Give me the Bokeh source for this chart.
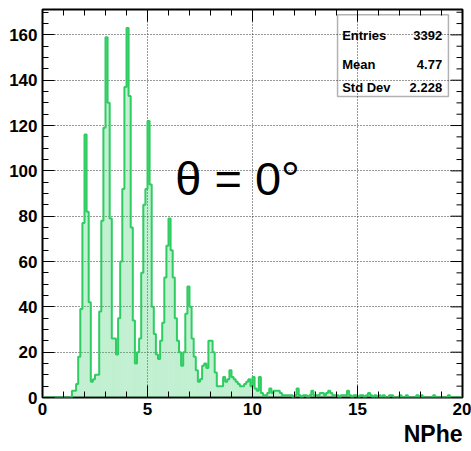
import numpy as np
from bokeh.plotting import figure
from bokeh.models import (Range1d, FixedTicker, Label, BoxAnnotation,
                          ColumnDataSource, Title)
from bokeh.embed import file_html
from bokeh.resources import INLINE

# ---------------- data ----------------
bin_width = 0.1
x_min, x_max = 0.0, 20.0
# counts per 0.1-wide bin, rows = one unit of NPhe (0.0-0.9, 1.0-1.9, ...)
counts = [
    0, 0, 0, 0, 0, 0, 0, 0, 0, 0,
    0, 0, 0, 0, 3, 3, 6, 18, 39, 77,
    116, 82, 42, 7, 8, 10, 10, 38, 78, 119,
    159, 130, 79, 26, 26, 19, 35, 60, 92, 137,
    163, 133, 75, 34, 15, 20, 26, 55, 85, 92,
    122, 94, 40, 28, 19, 17, 25, 33, 53, 67,
    79, 65, 53, 35, 25, 20, 14, 20, 37, 49,
    40, 26, 18, 12, 7, 8, 14, 15, 13, 25,
    25, 20, 11, 5, 5, 5, 9, 7, 8, 12,
    9, 8, 7, 6, 5, 5, 6, 7, 8, 5,
    9, 4, 3, 9, 2, 1, 1, 2, 4, 2,
    3, 3, 3, 2, 1, 1, 1, 1, 1, 0,
    1, 4, 1, 0, 1, 1, 0, 1, 3, 1,
    1, 1, 2, 2, 1, 2, 3, 2, 1, 1,
    1, 0, 1, 1, 1, 3, 1, 0, 1, 1,
    0, 1, 1, 0, 1, 2, 1, 0, 1, 0,
    1, 0, 1, 0, 0, 1, 1, 0, 0, 0,
    1, 0, 0, 1, 0, 0, 0, 0, 1, 0,
    1, 0, 0, 0, 0, 0, 1, 0, 0, 0,
    0, 0, 0, 1, 0, 0, 0, 0, 0, 0,
]
x_ticks = [0, 5, 10, 15, 20]
y_ticks = [0, 20, 40, 60, 80, 100, 120, 140, 160]
stats_names = ["Entries", "Mean", "Std Dev"]
stats_values = ["3392", "4.77", "2.228"]
x_title = "NPhe"
angle_text = "θ = 0°"

# ---------------- derived ----------------
n_bins = len(counts)
edges = np.linspace(x_min, x_max, n_bins + 1)
left = edges[:-1]
right = edges[1:]
counts_arr = np.array(counts, dtype=float)

FONT = "Liberation Sans"
GREEN = "#2fcc62"
Y_TOP = 171.2

p = figure(width=471, height=451, output_backend="svg", toolbar_location=None,
           x_range=Range1d(x_min, x_max), y_range=Range1d(0, Y_TOP),
           min_border_left=42, min_border_right=9, min_border_top=9,
           min_border_bottom=54, background_fill_color="white",
           border_fill_color="white", outline_line_color="black",
           outline_line_width=2)

# grid
p.xgrid.ticker = FixedTicker(ticks=x_ticks)
p.ygrid.ticker = FixedTicker(ticks=y_ticks)
for g in (p.xgrid, p.ygrid):
    g.grid_line_color = "#333333"
    g.grid_line_dash = "1 2"
    g.grid_line_width = 1

# histogram fill + outline
src = ColumnDataSource(dict(left=left, right=right, top=counts_arr,
                            bottom=np.zeros(n_bins)))
p.quad(left="left", right="right", top="top", bottom="bottom", source=src,
       fill_color=GREEN, fill_alpha=0.3, line_color=None)
step_x = np.concatenate([left, [right[-1]]])
step_y = np.concatenate([counts_arr, [counts_arr[-1]]])
p.step(step_x, step_y, mode="after", line_color=GREEN, line_width=2)

# axes (ticks inside)
x_minor = list(range(0, 21))
y_minor = list(range(0, 171, 5))
xt = FixedTicker(ticks=x_ticks, minor_ticks=x_minor)
yt = FixedTicker(ticks=y_ticks, minor_ticks=y_minor)

for ax in (p.xaxis[0], p.yaxis[0]):
    ax.axis_line_color = None
    ax.major_tick_in = 12
    ax.major_tick_out = 0
    ax.minor_tick_in = 6
    ax.minor_tick_out = 0
    ax.major_tick_line_color = "black"
    ax.minor_tick_line_color = "black"
    ax.major_label_text_font = FONT
    ax.major_label_text_font_style = "bold"
    ax.major_label_text_font_size = "17px"
    ax.major_label_text_color = "black"
    ax.major_label_standoff = 5
p.xaxis.ticker = xt
p.yaxis.ticker = yt

# mirrored ticks on top and right edges (tick lengths in data units)
px_per_x = 420 / (x_max - x_min)
px_per_y = 388 / Y_TOP
top_major = [t for t in x_ticks]
top_minor = [t for t in x_minor if t not in x_ticks]
p.segment(x0=top_major, x1=top_major, y0=[Y_TOP] * len(top_major),
          y1=[Y_TOP - 12 / px_per_y] * len(top_major), line_color="black", line_width=1)
p.segment(x0=top_minor, x1=top_minor, y0=[Y_TOP] * len(top_minor),
          y1=[Y_TOP - 6 / px_per_y] * len(top_minor), line_color="black", line_width=1)
right_major = [t for t in y_ticks]
right_minor = [t for t in y_minor if t not in y_ticks]
p.segment(x0=[x_max] * len(right_major), x1=[x_max - 12 / px_per_x] * len(right_major),
          y0=right_major, y1=right_major, line_color="black", line_width=1)
p.segment(x0=[x_max] * len(right_minor), x1=[x_max - 6 / px_per_x] * len(right_minor),
          y0=right_minor, y1=right_minor, line_color="black", line_width=1)

# x axis title, right-aligned below the axis
p.add_layout(Title(text=x_title, align="right", text_font=FONT,
                   text_font_style="bold", text_font_size="23px",
                   text_color="black", standoff=3), "below")

# theta annotation
p.add_layout(Label(x=6.32, y=96.5, text=angle_text, text_align="left",
                   text_baseline="alphabetic", text_font=FONT,
                   text_font_size="47px", text_color="black"))

# stats box
p.add_layout(BoxAnnotation(left=14.05, right=19.33, bottom=132.8, top=168.9,
                           fill_color=None, line_color="black", line_width=1.5))
row_y = [159.7, 146.9, 136.7]
for name, val, yy in zip(stats_names, stats_values, row_y):
    p.add_layout(Label(x=14.27, y=yy, text=name, text_align="left",
                       text_baseline="alphabetic", text_font=FONT,
                       text_font_style="bold", text_font_size="13px",
                       text_color="black"))
    p.add_layout(Label(x=19.03, y=yy, text=val, text_align="right",
                       text_baseline="alphabetic", text_font=FONT,
                       text_font_style="bold", text_font_size="13px",
                       text_color="black"))

open("out.html", "w").write(file_html(p, INLINE))
